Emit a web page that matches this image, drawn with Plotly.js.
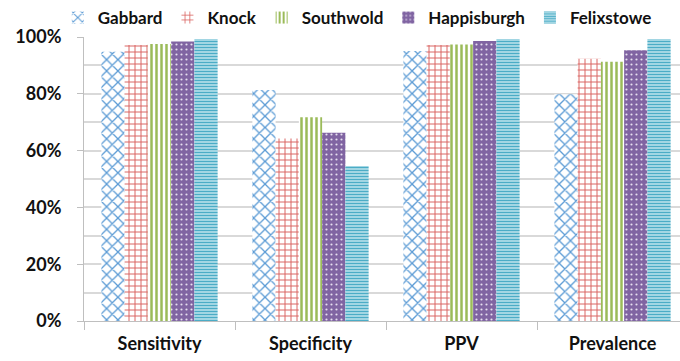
<!DOCTYPE html>
<html>
<head>
<meta charset="utf-8">
<script src="https://cdn.plot.ly/plotly-3.0.1.min.js"></script>
<style>
  html, body { margin: 0; padding: 0; background: #fff; overflow: hidden; }
  #chart { width: 680px; height: 361px; }
</style>
</head>
<body>
<div id="chart"></div>
<script>
// Diagnostic measures per site (%)
const categories = ["Sensitivity", "Specificity", "PPV", "Prevalence"];
const gabbard     = [94.8, 81.3, 95.1, 79.8];
const knock       = [97.2, 64.3, 97.2, 92.3];
const southwold   = [97.5, 71.7, 97.4, 91.3];
const happisburgh = [98.4, 66.3, 98.6, 95.3];
const felixstowe  = [99.3, 54.6, 99.3, 99.3];
const yTicks      = [0, 20, 40, 60, 80, 100];
const yTickLabels = ["0%", "20%", "40%", "60%", "80%", "100%"];

const FONT = 'Lato, "Open Sans", "Liberation Sans", Arial, sans-serif';

function series(name, values, shape, fg, bg, size, solidity) {
  return {
    type: 'bar',
    name: name,
    x: categories,
    y: values,
    marker: {
      color: bg,
      line: { width: 0 },
      pattern: { shape: shape, fgcolor: fg, bgcolor: bg, size: size, solidity: solidity, fillmode: 'replace' }
    },
    hoverinfo: 'skip'
  };
}

const data = [
  series('Gabbard',     gabbard,     'x', '#5b9bd5', '#ffffff', 8, 0.3),
  series('Knock',       knock,       '+', '#d9625f', '#ffffff', 6, 0.3),
  series('Southwold',   southwold,   '|', '#9bbb59', '#ffffff', 5, 0.5),
  series('Happisburgh', happisburgh, '.', '#e6dff0', '#8064a2', 5, 0.15),
  series('Felixstowe',  felixstowe,  '-', '#4bacc6', '#b4dfea', 3, 0.45)
];

const layout = {
  width: 680,
  height: 361,
  margin: { l: 84, r: 0, t: 37, b: 40, pad: 0 },
  paper_bgcolor: '#ffffff',
  plot_bgcolor: '#ffffff',
  font: { family: FONT, size: 17, color: '#111111', weight: 'bold' },
  barmode: 'group',
  bargap: 0.23,
  bargroupgap: 0,
  showlegend: true,
  legend: {
    orientation: 'h',
    xref: 'container', x: 0.085, xanchor: 'left',
    yref: 'container', y: 1, yanchor: 'top',
    font: { family: FONT, size: 17, color: '#111111', weight: 'bold' },
    itemwidth: 30,
    tracegroupgap: 0,
    bgcolor: 'rgba(0,0,0,0)'
  },
  xaxis: {
    type: 'category',
    range: [-0.5, 3.447],
    showgrid: false,
    showline: true,
    linecolor: '#bfbfbf',
    linewidth: 1,
    ticks: 'outside',
    tickson: 'boundaries',
    ticklen: 8,
    tickcolor: '#bfbfbf',
    tickfont: { family: FONT, size: 18, color: '#111111', weight: 'bold' },
    ticklabelstandoff: 6,
    zeroline: false,
    fixedrange: true
  },
  yaxis: {
    range: [0, 100],
    tickmode: 'array',
    tickvals: yTicks,
    ticktext: yTickLabels,
    showgrid: true,
    gridcolor: '#d9d9d9',
    gridwidth: 2,
    minor: { dtick: 10, showgrid: true, gridcolor: '#d9d9d9', gridwidth: 2 },
    showline: true,
    linecolor: '#bfbfbf',
    linewidth: 1,
    ticks: 'outside',
    ticklen: 6,
    tickcolor: '#bfbfbf',
    tickfont: { family: FONT, size: 18, color: '#111111', weight: 'bold' },
    ticklabelstandoff: 12,
    zeroline: false,
    fixedrange: true
  }
};

Plotly.newPlot('chart', data, layout, { displayModeBar: false, staticPlot: true });
</script>
</body>
</html>
